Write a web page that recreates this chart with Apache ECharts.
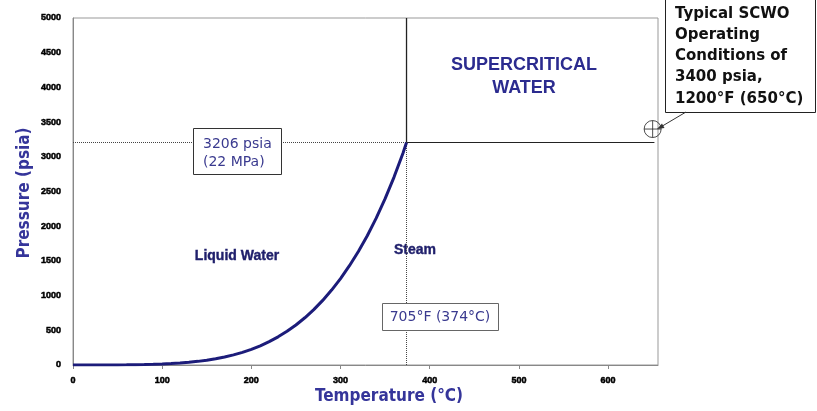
<!DOCTYPE html>
<html>
<head>
<meta charset="utf-8">
<script src="https://cdn.jsdelivr.net/npm/echarts@6/dist/echarts.min.js"></script>
<style>html,body{margin:0;padding:0;background:#fff;}#c{width:817px;height:411px;}</style>
</head>
<body>
<div id="c"></div>
<script>
// Saturation curve of water (temperature °C, pressure psia)
var tempC = [0, 10, 20, 30, 40, 50, 60, 70, 80, 90, 100, 110, 120, 130, 140, 150, 160, 170, 180, 190, 200, 210, 220, 230, 240, 250, 260, 270, 280, 290, 300, 310, 320, 330, 340, 350, 360, 370, 374];
var pressurePsia = [0.09, 0.18, 0.34, 0.62, 1.07, 1.79, 2.89, 4.53, 6.87, 10.2, 14.7, 20.8, 28.8, 39.2, 52.4, 69.1, 89.7, 114.9, 145.5, 182, 225.5, 276.6, 336.4, 405.7, 485.4, 576.7, 680.5, 798, 930.7, 1080, 1245, 1431, 1635, 1863, 2116, 2397, 2708, 3052, 3206];
// Critical point
var criticalT = 374;
var criticalP = 3206;
// Typical SCWO operating point
var scwoT = 650;
var scwoP = 3400;
// Axis ranges / ticks
var xMin = 0, xMax = 656, xStep = 100;
var yMin = 0, yMax = 5000, yStep = 500;
var xTickLabels = ['0', '100', '200', '300', '400', '500', '600'];
var yTickLabels = ['0', '500', '1000', '1500', '2000', '2500', '3000', '3500', '4000', '4500', '5000'];

var curve = tempC.map(function (t, i) { return [t, pressurePsia[i]]; });

var chart = echarts.init(document.getElementById('c'), null, {renderer: 'canvas'});
var tickFont = {fontFamily: 'Liberation Sans, Arial', fontWeight: 'bold', fontSize: 9, color: '#000',
  textBorderColor: '#000', textBorderWidth: 0.5};
var titleFont = "bold 17px 'DejaVu Sans Condensed', 'DejaVu Sans', sans-serif";
var titleColor = '#35359a';

function refLine(data, type, color, width) {
  return {type: 'line', data: data, symbol: 'none', silent: true, z: 3,
    lineStyle: {color: color, width: width, type: type}};
}

chart.setOption({
  animation: false,
  backgroundColor: '#fff',
  grid: {left: 73, right: 159, top: 18, bottom: 46, show: true, borderColor: '#999', borderWidth: 1},
  xAxis: {
    type: 'value', min: xMin, max: xMax, interval: xStep,
    axisLine: {lineStyle: {color: '#888', width: 1}},
    axisTick: {show: true, length: 4, lineStyle: {color: '#888'}},
    splitLine: {show: false},
    axisLabel: Object.assign({margin: 11, showMaxLabel: false,
      formatter: function (v) { var i = xTickLabels.indexOf(String(v)); return i >= 0 ? xTickLabels[i] : ''; }}, tickFont)
  },
  yAxis: {
    type: 'value', min: yMin, max: yMax, interval: yStep,
    axisLine: {show: true, lineStyle: {color: '#888', width: 1}},
    axisTick: {show: false},
    splitLine: {show: false},
    axisLabel: Object.assign({margin: 12,
      formatter: function (v) { var i = yTickLabels.indexOf(String(v)); return i >= 0 ? yTickLabels[i] : ''; }}, tickFont)
  },
  series: [
    refLine([[xMin, criticalP], [criticalT, criticalP]], 'dotted', '#444', 1),
    refLine([[criticalT, criticalP], [scwoT + 2, criticalP]], 'solid', '#222', 1),
    refLine([[criticalT, criticalP], [criticalT, yMax]], 'solid', '#222', 1.3),
    refLine([[criticalT, yMin], [criticalT, criticalP]], 'dotted', '#444', 1),
    {
      type: 'line', data: curve, symbol: 'none', smooth: false, z: 5,
      lineStyle: {color: '#1c1c7a', width: 3}
    },
    {
      type: 'scatter', data: [[scwoT, scwoP]], z: 6,
      symbol: 'path://M0,-10A10,10 0 1,1 0,10A10,10 0 1,1 0,-10ZM-10,0L10,0M0,-10L0,10',
      symbolSize: 17,
      itemStyle: {color: 'rgba(0,0,0,0)', borderColor: '#222', borderWidth: 1}
    }
  ],
  graphic: [
    {type: 'text', rotation: Math.PI / 2, position: [25, 193], style: {
      text: 'Pressure (psia)', font: titleFont, fill: titleColor, textAlign: 'center', textVerticalAlign: 'middle'}},
    {type: 'text', position: [389, 397], style: {
      text: 'Temperature (°C)', font: titleFont, fill: titleColor, textAlign: 'center', textVerticalAlign: 'middle'}},
    {type: 'text', position: [524, 65], style: {
      text: 'SUPERCRITICAL', font: "bold 18px 'Liberation Sans', Arial", fill: '#2b2b8f', textAlign: 'center', textVerticalAlign: 'middle'}},
    {type: 'text', position: [524, 88], style: {
      text: 'WATER', font: "bold 18px 'Liberation Sans', Arial", fill: '#2b2b8f', textAlign: 'center', textVerticalAlign: 'middle'}},
    {type: 'text', position: [237, 256], style: {
      text: 'Liquid Water', font: "bold 14px 'Liberation Sans', Arial", fill: '#1f1f6b', textAlign: 'center', textVerticalAlign: 'middle',
      stroke: '#1f1f6b', lineWidth: 0.4}},
    {type: 'text', position: [415, 250], style: {
      text: 'Steam', font: "bold 14px 'Liberation Sans', Arial", fill: '#1f1f6b', textAlign: 'center', textVerticalAlign: 'middle',
      stroke: '#1f1f6b', lineWidth: 0.4}},
    {type: 'rect', shape: {x: 193.5, y: 128.5, width: 88, height: 46}, style: {fill: '#fff', stroke: '#333', lineWidth: 1}, z: 10},
    {type: 'text', position: [203, 144], z: 11, style: {
      text: '3206 psia', font: "14px 'DejaVu Sans', sans-serif", fill: '#3a3a8f', textAlign: 'left', textVerticalAlign: 'middle'}},
    {type: 'text', position: [203, 162], z: 11, style: {
      text: '(22 MPa)', font: "14px 'DejaVu Sans', sans-serif", fill: '#3a3a8f', textAlign: 'left', textVerticalAlign: 'middle'}},
    {type: 'rect', shape: {x: 382.5, y: 303.5, width: 116, height: 27}, style: {fill: '#fff', stroke: '#666', lineWidth: 1}, z: 10},
    {type: 'text', position: [440, 317], z: 11, style: {
      text: '705°F (374°C)', font: "14px 'DejaVu Sans', sans-serif", fill: '#3a3a8f', textAlign: 'center', textVerticalAlign: 'middle'}},
    {type: 'rect', shape: {x: 665.5, y: -2, width: 150, height: 114.5}, style: {fill: '#fff', stroke: '#222', lineWidth: 1}, z: 10},
    {type: 'text', position: [675, 3], z: 11, style: {
      text: 'Typical SCWO\nOperating\nConditions of\n3400 psia,\n1200°F (650°C)',
      font: "bold 15px 'DejaVu Sans', sans-serif", lineHeight: 21.3, fill: '#111', textAlign: 'left', textVerticalAlign: 'top'}},
    {type: 'line', shape: {x1: 686, y1: 112, x2: 659, y2: 128}, style: {stroke: '#333', lineWidth: 1}, z: 12},
    {type: 'polygon', shape: {points: [[657, 129], [662, 123.5], [664.5, 128]]}, style: {fill: '#333'}, z: 12}
  ]
});
</script>
</body>
</html>
